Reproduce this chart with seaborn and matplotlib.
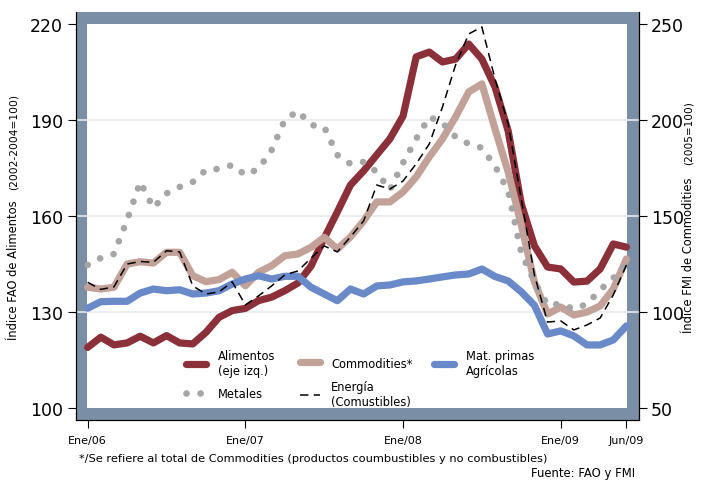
import numpy as np
import pandas as pd
import seaborn as sns
import matplotlib.pyplot as plt
from matplotlib.patches import Rectangle

# meses desde Ene/06 (0) hasta Jun/09 (41)
meses = list(range(42))

# Indice FAO de alimentos (eje izquierdo)
alimentos = [118.9, 122.1, 119.7, 120.3, 122.4, 120.3, 122.6, 120.3, 120.0, 123.6,
             128.3, 130.4, 131.1, 133.5, 134.6, 136.6, 139.0, 144.3, 153.0, 161.2,
             169.6, 174.0, 179.0, 184.0, 191.1, 209.6, 211.1, 208.0, 208.9, 213.6,
             208.9, 200.2, 186.5, 163.7, 150.6, 144.0, 143.4, 139.3, 139.6, 143.4,
             151.2, 150.2]

# Indices FMI (eje derecho)
commodities = [112.8, 111.9, 112.8, 124.9, 126.1, 125.4, 131.0, 131.0, 118.8, 115.7,
               116.8, 120.6, 113.6, 120.6, 124.0, 129.2, 130.1, 133.6, 138.8, 132.7,
               139.0, 147.3, 157.2, 157.2, 162.4, 170.2, 180.6, 190.0, 201.4, 214.4,
               218.6, 195.2, 172.8, 145.2, 115.6, 98.9, 102.5, 98.4, 99.9, 103.1,
               111.9, 127.5]
agricolas = [101.9, 105.3, 105.5, 105.5, 109.8, 111.9, 111.0, 111.5, 109.3, 109.8,
             111.0, 114.5, 117.1, 118.8, 117.1, 118.5, 118.5, 112.8, 109.3, 105.8,
             111.9, 109.3, 113.5, 114.0, 115.6, 116.1, 117.1, 118.2, 119.2, 119.7,
             122.3, 118.4, 116.1, 110.4, 103.4, 88.5, 90.1, 87.5, 82.8, 82.8,
             85.4, 92.7]
metales = [124.4, 128.0, 130.1, 147.8, 167.6, 154.1, 161.6, 165.0, 167.6, 173.8,
           174.4, 176.4, 171.2, 174.4, 184.2, 199.8, 204.5, 197.2, 196.2, 181.6,
           177.0, 178.0, 172.8, 163.4, 177.5, 190.0, 201.4, 198.3, 191.0, 187.4,
           185.3, 175.9, 162.9, 130.6, 115.6, 103.6, 104.1, 101.5, 104.1, 111.4,
           117.6, 124.9]
energia = [115.4, 111.7, 113.0, 124.9, 126.2, 125.8, 131.8, 131.2, 113.5, 109.3,
           110.4, 115.6, 103.6, 108.3, 113.5, 119.2, 121.3, 128.0, 134.3, 131.2,
           139.0, 147.3, 166.0, 163.9, 168.1, 177.0, 187.4, 206.6, 228.5, 244.6,
           248.2, 221.2, 197.8, 158.7, 119.2, 94.7, 95.3, 90.6, 93.2, 96.8,
           108.8, 124.4]

xtick_pos = [0, 12, 24, 36, 41]
xtick_labels = ['Ene/06', 'Ene/07', 'Ene/08', 'Ene/09', 'Jun/09']
left_ticks = [100, 130, 160, 190, 220]
right_ticks = [50, 100, 150, 200, 250]

df = pd.DataFrame({'mes': meses, 'alimentos': alimentos, 'commodities': commodities,
                   'agricolas': agricolas, 'metales': metales, 'energia': energia})

sns.set_theme(style='ticks')
plt.rcParams['font.family'] = ['DejaVu Sans']
plt.rcParams.update({'text.color': 'black', 'xtick.color': 'black',
                     'ytick.color': 'black', 'axes.labelcolor': 'black'})

c_red = '#8b3038'
c_pink = '#c2a199'
c_blue = '#6a89c8'
c_gray = '#a6a6a6'
c_frame = '#7a8fa6'

fig = plt.figure(figsize=(7.02, 4.81), dpi=100)
ax = fig.add_axes([0.1078, 0.1254, 0.8025, 0.8469])
ax2 = ax.twinx()

# marco azul-gris con interior blanco
ax.set_facecolor(c_frame)
ax.add_patch(Rectangle((0.0195, 0.0287), 0.9592, 0.9438, transform=ax.transAxes,
                       facecolor='white', edgecolor='none', zorder=0))
for g in [130, 160, 190]:
    ax.axhline(g, color='#e4ebf0', lw=1.2, zorder=0.5)

lw = 5.2
sns.lineplot(data=df, x='mes', y='alimentos', ax=ax, color=c_red, lw=lw, legend=False,
             solid_capstyle='round', solid_joinstyle='round', label='Alimentos\n(eje izq.)')
sns.lineplot(data=df, x='mes', y='commodities', ax=ax2, color=c_pink, lw=lw, legend=False,
             solid_capstyle='round', solid_joinstyle='round', label='Commodities*')
sns.lineplot(data=df, x='mes', y='agricolas', ax=ax2, color=c_blue, lw=lw, legend=False,
             solid_capstyle='round', solid_joinstyle='round', label='Mat. primas\nAgrícolas')
sns.lineplot(data=df, x='mes', y='metales', ax=ax2, color=c_gray, lw=4.8, legend=False,
             linestyle=(0, (0.01, 2.1)), dash_capstyle='round', label='Metales')
sns.lineplot(data=df, x='mes', y='energia', ax=ax2, color='black', lw=1.1, legend=False,
             linestyle=(0, (5.5, 3.5)), label='Energía\n(Comustibles)')

ax.set_xlim(-0.913, 41.96)
ax.set_ylim(96.35, 223.5)
ax2.set_ylim(43.92, 255.83)

ax.set_xticks(xtick_pos)
ax.set_xticklabels(xtick_labels)
ax.set_yticks(left_ticks)
ax2.set_yticks(right_ticks)
ax.set_xlabel('')
ax.set_ylabel('')
ax2.set_ylabel('')
ax.grid(False)
ax2.grid(False)

ax.tick_params(axis='y', length=6, width=0.8, labelsize=12.5, pad=3)
ax2.tick_params(axis='y', length=6, width=0.8, labelsize=12.5, pad=2.4)
ax.tick_params(axis='x', length=6, width=0.8, labelsize=8, pad=5.2)

for a in (ax, ax2):
    a.spines['top'].set_visible(False)
    for s in ('left', 'right', 'bottom'):
        a.spines[s].set_color('black')
        a.spines[s].set_linewidth(0.8)

# leyenda: una entrada por caja, en filas y columnas fijas
h1, l1 = ax.get_legend_handles_labels()
h2, l2 = ax2.get_legend_handles_labels()
hd = dict(zip(l1 + l2, h1 + h2))
entradas = [('Alimentos\n(eje izq.)', 186, 364), ('Commodities*', 299.5, 364),
            ('Mat. primas\nAgrícolas', 434, 364), ('Metales', 186, 395),
            ('Energía\n(Comustibles)', 299.5, 395)]
for lab, xl, yc in entradas:
    fig.legend([hd[lab]], [lab], frameon=False, fontsize=8.3, loc='center left',
               bbox_to_anchor=(xl / 702, 1 - yc / 481), bbox_transform=fig.transFigure,
               borderaxespad=0, borderpad=0, handlelength=1.75, handletextpad=1.0)

fig.text(14 / 702, 1 - 340 / 481, 'Índice FAO de Alimentos', rotation=90,
         ha='center', va='bottom', fontsize=8.3)
fig.text(14 / 702, 1 - 94 / 481, '(2002-2004=100)', rotation=90,
         ha='center', va='top', fontsize=7.7)
fig.text(689 / 702, 1 - 333 / 481, 'Índice FMI de Commodities', rotation=90,
         ha='center', va='bottom', fontsize=8.3)
fig.text(689 / 702, 1 - 101 / 481, '(2005=100)', rotation=90,
         ha='center', va='top', fontsize=7.6)

fig.text(79 / 702, 1 - 459 / 481,
         '*/Se refiere al total de Commodities (productos coumbustibles y no combustibles)',
         ha='left', va='center', fontsize=8.2)
fig.text(635 / 702, 1 - 474 / 481, 'Fuente: FAO y FMI', ha='right', va='center', fontsize=8.4)

fig.savefig('out.png', dpi=100)
